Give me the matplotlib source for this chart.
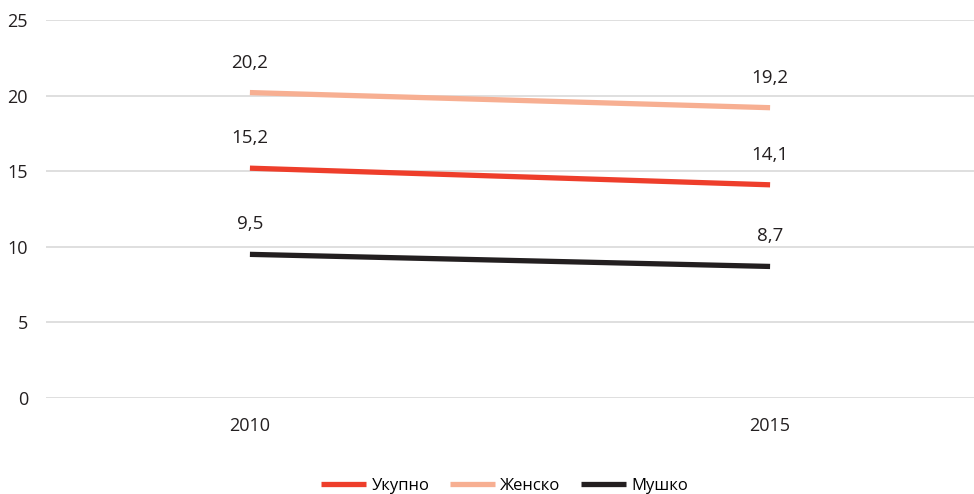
import matplotlib.pyplot as plt

years = ["2010", "2015"]
ukupno = [15.2, 14.1]
zensko = [20.2, 19.2]
musko = [9.5, 8.7]

series = [
    ("Укупно", ukupno, "#EE3E2B"),
    ("Женско", zensko, "#F7AF92"),
    ("Мушко", musko, "#231F20"),
]

plt.rcParams["font.family"] = ["Open Sans", "DejaVu Sans"]

fig = plt.figure(figsize=(9.74, 4.94), dpi=100)
ax = fig.add_axes([46/974, 1 - 398/494, 1 - 46/974, 378/494])

x = list(range(len(years)))
for name, vals, col in series:
    ax.plot(x, vals, color=col, lw=3.8, label=name, solid_capstyle="butt")
    for xi, v in zip(x, vals):
        ax.annotate(f"{v:.1f}".replace(".", ","), (xi, v), xytext=(0, 30),
                    textcoords="offset pixels", ha="center", va="center",
                    fontsize=13.5, color="#231F20")

ax.set_xlim(-0.392, 1.392)
ax.set_ylim(0, 25)
ax.set_yticks([0, 5, 10, 15, 20, 25])
ax.set_xticks(x)
ax.set_xticklabels(years)
ax.tick_params(axis="both", length=0, labelsize=13, labelcolor="#231F20")
ax.tick_params(axis="x", pad=14)
ax.tick_params(axis="y", pad=13)
ax.grid(axis="y", color="#D9D9D9", lw=1.2)
ax.set_axisbelow(True)
for s in ax.spines.values():
    s.set_visible(False)

fig.legend(loc="lower center", bbox_to_anchor=(0.518, -0.03), ncol=3,
           frameon=False, fontsize=12, handlelength=2.7, columnspacing=1.2,
           handletextpad=0.35)

fig.savefig("out.png", dpi=100)
